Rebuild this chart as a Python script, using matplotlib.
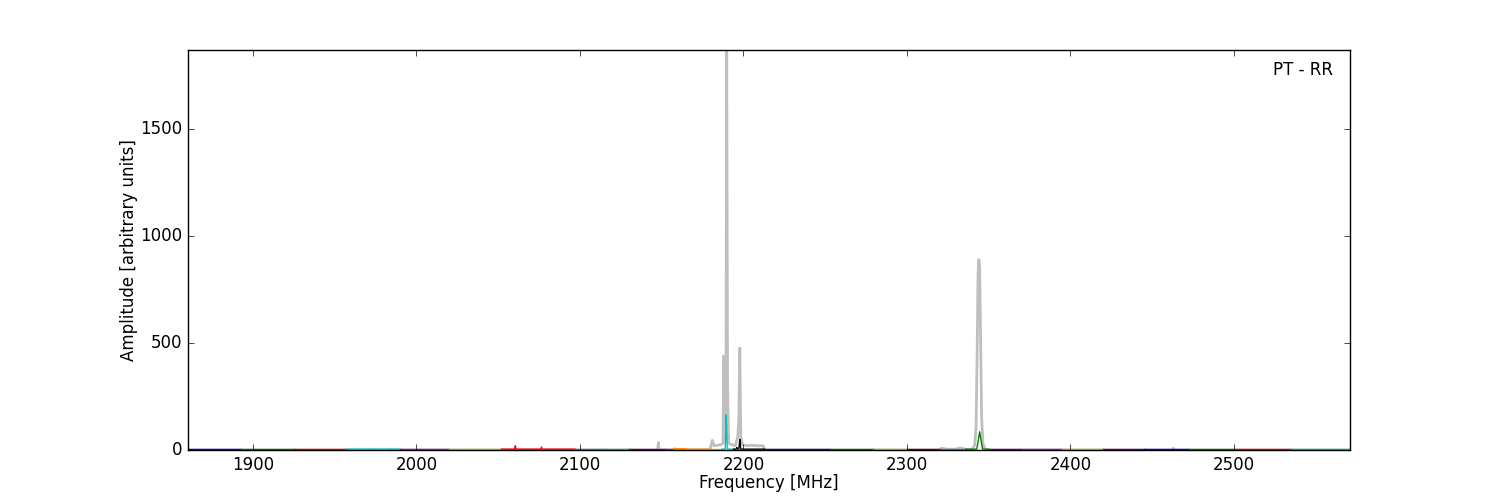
import matplotlib
matplotlib.use('Agg')
import matplotlib.pyplot as plt

# grey: full spectrum (MHz, amplitude)
grey_freq = [1860, 2147.5, 2148, 2148.5, 2157.5, 2158, 2158.5,
             2179.5, 2180, 2181, 2182, 2184, 2186, 2187.5, 2188, 2188.7, 2189.3,
             2189.8, 2190.3, 2191, 2193, 2195, 2196.5, 2197.2, 2197.8, 2198.4,
             2199.5, 2202, 2205, 2208, 2212, 2213,
             2320, 2321, 2323, 2325, 2330, 2333, 2335, 2337,
             2340, 2341.5, 2342.3, 2343, 2343.5, 2344, 2344.5, 2345, 2345.7,
             2346.5, 2348, 2350,
             2462.5, 2463, 2463.5, 2571]
grey_amp = [0, 0, 35, 0, 0, 6, 0,
            0, 15, 45, 20, 22, 25, 30, 440, 40, 200,
            1870, 300, 30, 25, 20, 60, 140, 477, 60,
            25, 20, 22, 20, 20, 0,
            0, 8, 6, 3, 4, 10, 5, 2,
            3, 25, 110, 480, 820, 890, 850, 560, 150,
            30, 3, 0,
            0, 8, 0, 0]

# coloured: single channels, start / end frequency and colour
chan_start = [1860, 1892, 1926, 1957, 1990, 2020, 2052, 2097, 2116, 2130, 2152,
              2165, 2180, 2187, 2194, 2213, 2253, 2280, 2300, 2320, 2336, 2350,
              2370, 2395, 2420, 2445, 2472, 2500, 2535]
chan_end = [1892, 1926, 1957, 1990, 2020, 2052, 2097, 2116, 2130, 2152, 2165,
            2180, 2187, 2194, 2213, 2253, 2280, 2300, 2320, 2336, 2350, 2370,
            2395, 2420, 2445, 2472, 2500, 2535, 2571]
chan_color = ['b', 'g', 'r', 'c', 'm', 'y', 'r', 'steelblue', 'mediumseagreen',
              'purple', 'm', 'darkorange', 'y', 'c', 'k', 'indigo', 'g', 'y',
              'darkred', 'steelblue', 'g', 'purple', 'm', 'y', 'purple', 'b',
              'g', 'r', 'c']
chan_base = 4

# narrow peaks in the coloured channels: channel index, frequency, amplitude
peak_chan = [3, 3, 6, 6, 11, 13, 14, 14, 20]
peak_freq = [1974, 1984, 2060.5, 2076.5, 2158, 2189.5, 2196, 2197.8, 2344.5]
peak_amp = [3, 4, 20, 14, 5, 164, 12, 50, 85]
peak_half = [0.5, 0.5, 0.5, 0.5, 0.5, 0.6, 0.5, 0.6, 1.8]

plt.style.use('classic')
fig = plt.figure(figsize=(15, 5), dpi=100, facecolor='white')
ax = fig.add_subplot(111)

ax.plot(grey_freq, grey_amp, color='0.75', lw=2)

for i in range(len(chan_start)):
    xs = [chan_start[i]]
    ys = [chan_base]
    for j in range(len(peak_chan)):
        if peak_chan[j] == i:
            f = peak_freq[j]
            h = peak_half[j]
            xs += [f - h, f - h * 0.4, f, f + h * 0.4, f + h]
            ys += [chan_base, peak_amp[j] * 0.6, peak_amp[j], peak_amp[j] * 0.6, chan_base]
    xs.append(chan_end[i])
    ys.append(chan_base)
    ax.plot(xs, ys, color=chan_color[i], lw=1)

ax.set_xlim(1860, 2571)
ax.set_ylim(0, 1870)
ax.set_xlabel('Frequency [MHz]', labelpad=0)
ax.set_ylabel('Amplitude [arbitrary units]', labelpad=1)
ax.text(0.985, 0.95, 'PT - RR', transform=ax.transAxes, ha='right', va='center')

fig.savefig('out.png', dpi=100, facecolor='white')
